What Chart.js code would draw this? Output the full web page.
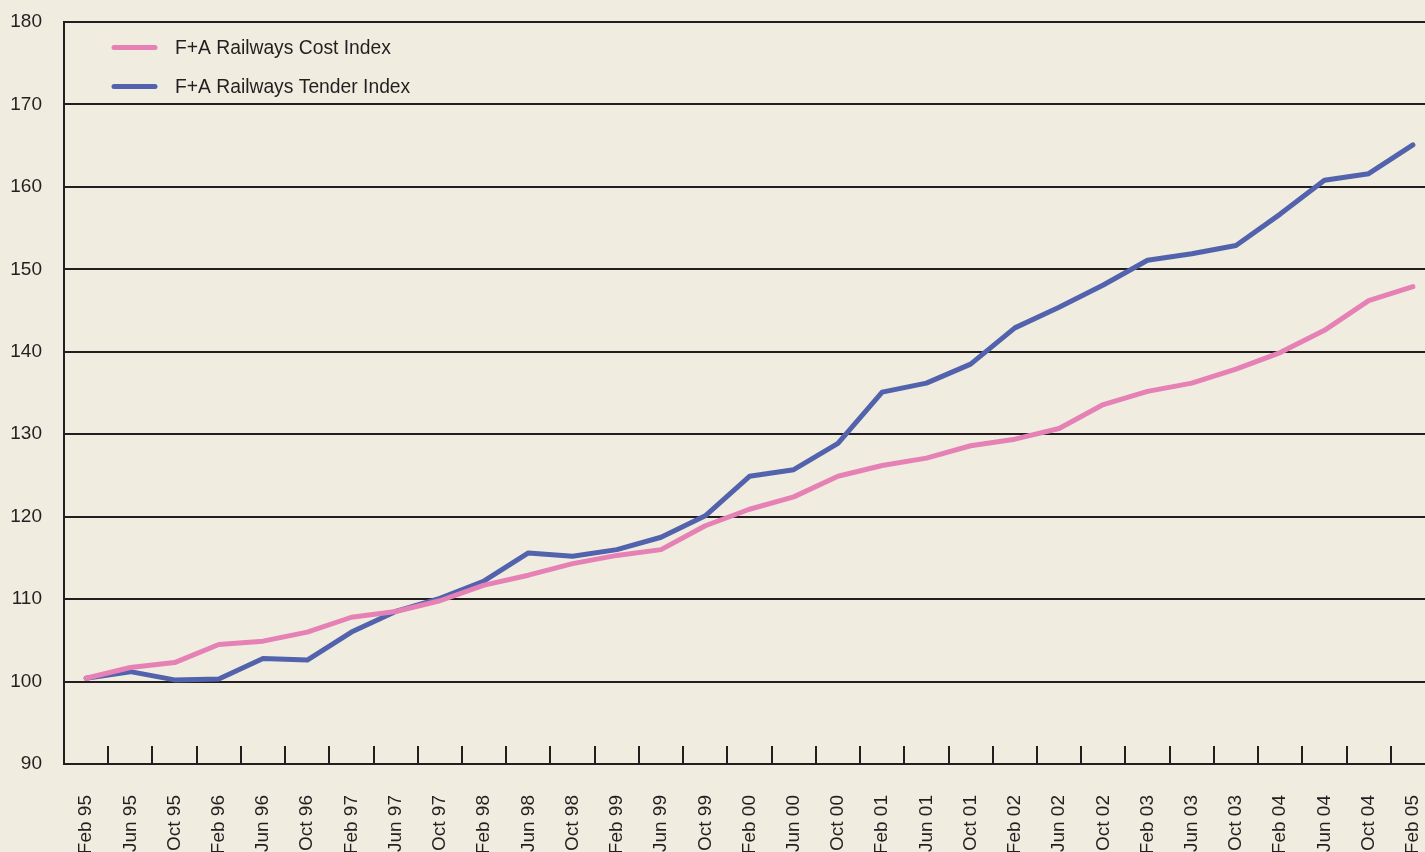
<!DOCTYPE html>
<html>
<head>
<meta charset="utf-8">
<script src="https://cdn.jsdelivr.net/npm/chart.js@4"></script>
<style>
  html, body { margin: 0; padding: 0; background: #f0ece0; overflow: hidden; width: 1425px; height: 852px; }
  #wrap { position: absolute; left: 0; top: 0; }
</style>
</head>
<body>
<div id="wrap"><canvas id="c" width="1440" height="880"></canvas></div>
<script>
const categories = [
  "Feb 95","Jun 95","Oct 95","Feb 96","Jun 96","Oct 96","Feb 97","Jun 97","Oct 97","Feb 98",
  "Jun 98","Oct 98","Feb 99","Jun 99","Oct 99","Feb 00","Jun 00","Oct 00","Feb 01","Jun 01",
  "Oct 01","Feb 02","Jun 02","Oct 02","Feb 03","Jun 03","Oct 03","Feb 04","Jun 04","Oct 04","Feb 05"
];
const costIndex = [
  100.4, 101.7, 102.3, 104.5, 104.9, 106.0, 107.8, 108.5, 109.8, 111.7,
  112.9, 114.3, 115.3, 116.0, 118.9, 120.9, 122.4, 124.9, 126.2, 127.1,
  128.6, 129.4, 130.7, 133.6, 135.2, 136.2, 137.9, 139.9, 142.6, 146.2, 147.9
];
const tenderIndex = [
  100.4, 101.2, 100.2, 100.3, 102.8, 102.6, 106.0, 108.5, 110.1, 112.2,
  115.6, 115.2, 116.0, 117.5, 120.1, 124.9, 125.7, 128.9, 135.1, 136.2,
  138.5, 142.9, 145.4, 148.1, 151.1, 151.9, 152.9, 156.7, 160.8, 161.6, 165.1
];
const seriesNames = ["F+A Railways Cost Index", "F+A Railways Tender Index"];
const seriesColors = ["#e681b6", "#5262ac"];
const yMin = 90, yMax = 180, yStep = 10;

const FONT = "'Liberation Sans', Arial, sans-serif";
const INK = "#231f20";

const tickMarks = {
  id: 'tickMarks',
  afterDraw(chart) {
    const x = chart.scales.x, area = chart.chartArea, ctx = chart.ctx;
    const n = chart.data.labels.length;
    ctx.save();
    ctx.strokeStyle = INK;
    ctx.lineWidth = 2;
    for (let i = 1; i <= n; i++) {
      const a = x.getPixelForValue(i - 1);
      const b = i < n ? x.getPixelForValue(i) : a + (a - x.getPixelForValue(i - 2));
      const px = Math.round((a + b) / 2);
      ctx.beginPath();
      ctx.moveTo(px, area.bottom);
      ctx.lineTo(px, area.bottom - 18);
      ctx.stroke();
    }
    ctx.restore();
  }
};

const insideLegend = {
  id: 'insideLegend',
  afterDatasetsDraw(chart) {
    const area = chart.chartArea, ctx = chart.ctx;
    ctx.save();
    ctx.font = "19.3px " + FONT;
    ctx.textBaseline = 'middle';
    ctx.fillStyle = INK;
    chart.data.datasets.forEach((ds, i) => {
      const y = area.top + 25.5 + i * 39;
      ctx.strokeStyle = ds.borderColor;
      ctx.lineWidth = 5;
      ctx.lineCap = 'round';
      ctx.beginPath();
      ctx.moveTo(area.left + 50, y);
      ctx.lineTo(area.left + 91, y);
      ctx.stroke();
      ctx.fillText(ds.label, area.left + 111, y + 1.5);
    });
    ctx.restore();
  }
};

new Chart(document.getElementById('c'), {
  type: 'line',
  data: {
    labels: categories,
    datasets: [
      { label: seriesNames[0], data: costIndex, borderColor: seriesColors[0], backgroundColor: seriesColors[0] },
      { label: seriesNames[1], data: tenderIndex, borderColor: seriesColors[1], backgroundColor: seriesColors[1] }
    ]
  },
  options: {
    responsive: false,
    animation: false,
    devicePixelRatio: 1,
    layout: { padding: { top: 22, right: 5, left: 0, bottom: 0 } },
    elements: {
      line: { borderWidth: 5, tension: 0, borderCapStyle: 'round', borderJoinStyle: 'round' },
      point: { radius: 0, hoverRadius: 0 }
    },
    plugins: { legend: { display: false }, tooltip: { enabled: false } },
    scales: {
      x: {
        type: 'category',
        offset: true,
        grid: { display: false, drawTicks: false },
        border: { display: true, color: INK, width: 2 },
        ticks: {
          autoSkip: false, minRotation: 90, maxRotation: 90,
          padding: 31, color: INK, font: { family: FONT, size: 19 }
        },
        afterFit(s) { s.height = 880 - 764; s.paddingLeft = 0; s.paddingRight = 0; }
      },
      y: {
        min: yMin, max: yMax,
        grid: { color: INK, lineWidth: 2, drawTicks: false },
        border: { display: true, color: INK, width: 2 },
        ticks: { stepSize: yStep, padding: 22, color: INK, font: { family: FONT, size: 19 } },
        afterFit(s) { s.width = 64; s.paddingTop = 0; s.paddingBottom = 0; }
      }
    }
  },
  plugins: [tickMarks, insideLegend]
});
</script>
</body>
</html>
